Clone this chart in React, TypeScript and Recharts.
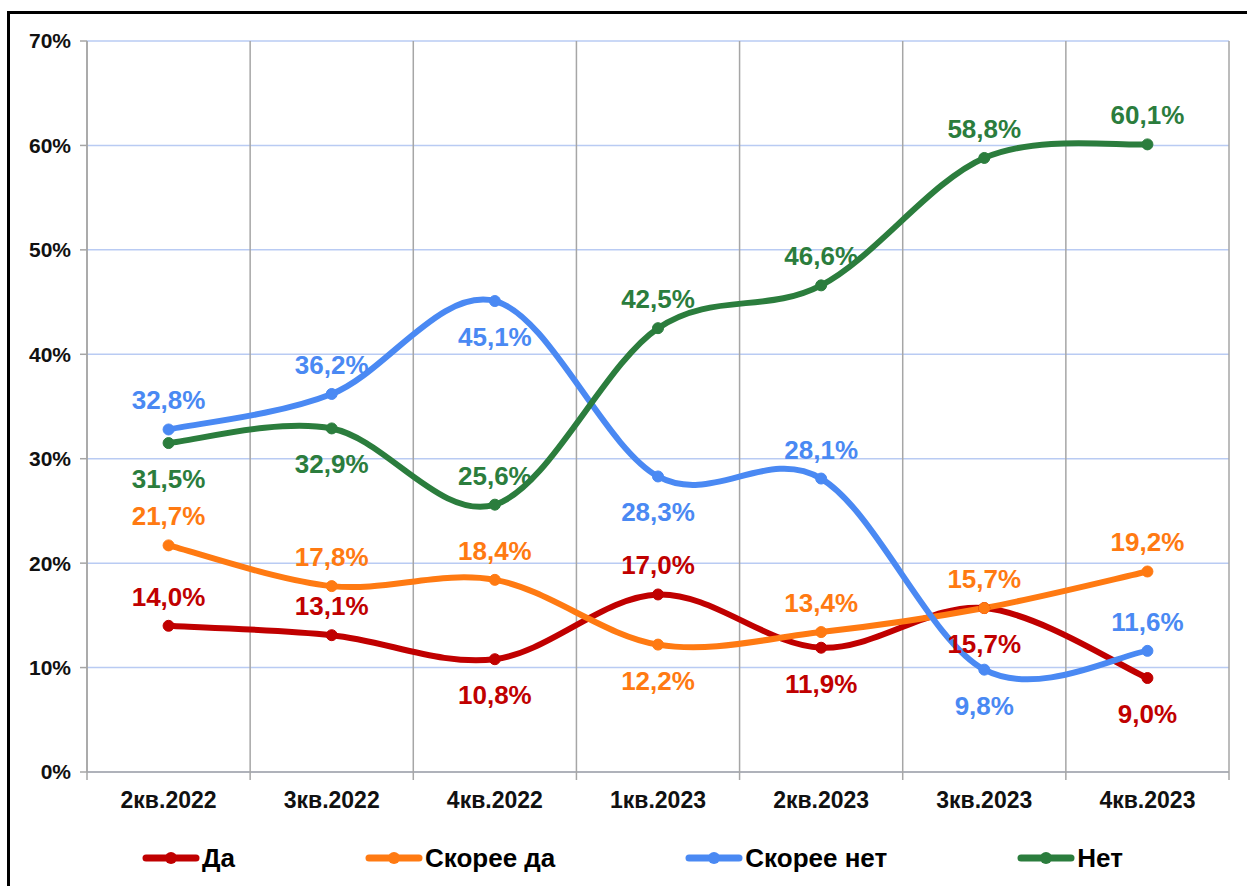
import { LineChart, Line, XAxis, YAxis, CartesianGrid, ReferenceLine, LabelList } from 'recharts';

const quarters = ['2кв.2022', '3кв.2022', '4кв.2022', '1кв.2023', '2кв.2023', '3кв.2023', '4кв.2023'];

const da = [14.0, 13.1, 10.8, 17.0, 11.9, 15.7, 9.0];
const skoreeDa = [21.7, 17.8, 18.4, 12.2, 13.4, 15.7, 19.2];
const skoreeNet = [32.8, 36.2, 45.1, 28.3, 28.1, 9.8, 11.6];
const net = [31.5, 32.9, 25.6, 42.5, 46.6, 58.8, 60.1];

// где стоит подпись: u — над точкой, d — под точкой
const daPos = ['u', 'u', 'd', 'u', 'd', 'd', 'd'];
const skoreeDaPos = ['u', 'u', 'u', 'd', 'u', 'u', 'u'];
const skoreeNetPos = ['u', 'u', 'd', 'd', 'u', 'd', 'u'];
const netPos = ['d', 'd', 'u', 'u', 'u', 'u', 'u'];

const yTicks = [0, 10, 20, 30, 40, 50, 60, 70];

const series = [
  { key: 'da', name: 'Да', values: da, pos: daPos, color: '#c00000' },
  { key: 'skoreeDa', name: 'Скорее да', values: skoreeDa, pos: skoreeDaPos, color: '#ff7a12' },
  { key: 'skoreeNet', name: 'Скорее нет', values: skoreeNet, pos: skoreeNetPos, color: '#4a89f3' },
  { key: 'net', name: 'Нет', values: net, pos: netPos, color: '#2b7d3d' },
];

const data = quarters.map((q, i) => {
  const row: Record<string, number | string> = { i, q };
  series.forEach((s) => (row[s.key] = s.values[i]));
  return row;
});

// границы между кварталами (вертикальные линии сетки)
const bounds = quarters.map((_, i) => i - 0.5).concat(quarters.length - 0.5);
const xTicks = [...bounds, ...quarters.map((_, i) => i)].sort((a, b) => a - b);

const FONT = '"Liberation Sans", Arial, sans-serif';
const GRAY = '#a6a6a6';

// Сглаживание как в Excel (Catmull-Rom)
const excelSmooth: any = (context: any) => {
  let pts: number[][] = [];
  return {
    areaStart() {},
    areaEnd() {},
    lineStart() {
      pts = [];
    },
    point(x: number, y: number) {
      pts.push([+x, +y]);
    },
    lineEnd() {
      if (!pts.length) return;
      context.moveTo(pts[0][0], pts[0][1]);
      for (let k = 0; k < pts.length - 1; k++) {
        const p0 = pts[k - 1] || pts[k];
        const p1 = pts[k];
        const p2 = pts[k + 1];
        const p3 = pts[k + 2] || p2;
        context.bezierCurveTo(
          p1[0] + (p2[0] - p0[0]) / 6,
          p1[1] + (p2[1] - p0[1]) / 6,
          p2[0] - (p3[0] - p1[0]) / 6,
          p2[1] - (p3[1] - p1[1]) / 6,
          p2[0],
          p2[1],
        );
      }
    },
  };
};

function QuarterTick({ x, y, payload }: any) {
  const v = payload.value;
  if (Number.isInteger(v)) {
    return (
      <text x={x} y={y + 36} textAnchor="middle" fontFamily={FONT} fontSize={23} fontWeight="bold" fill="#111">
        {quarters[v]}
      </text>
    );
  }
  return <line x1={x} x2={x} y1={y} y2={y + 8} stroke={GRAY} strokeWidth={1.5} />;
}

function makeLabel(color: string, pos: string[]) {
  return (props: any) => {
    const { x, y, value, index } = props;
    const below = pos[index] === 'd';
    return (
      <text
        x={x}
        y={below ? y + 45 : y - 20}
        textAnchor="middle"
        fontFamily={FONT}
        fontSize={26}
        fontWeight="bold"
        fill={color}
      >
        {value.toFixed(1).replace('.', ',')}%
      </text>
    );
  };
}

export default function App() {
  return (
    <div style={{ position: 'fixed', left: 0, top: 0, width: 1247, height: 886, overflow: 'hidden', background: '#fff' }}>
      <div
        style={{
          position: 'absolute',
          left: 7,
          top: 11,
          width: 1260,
          height: 900,
          border: '3px solid #000',
          boxSizing: 'border-box',
        }}
      />
      <div style={{ position: 'absolute', left: 0, top: 0 }}>
        <LineChart width={1247} height={886} data={data} margin={{ top: 41, right: 18, bottom: 69, left: 7 }}>
          <CartesianGrid vertical={false} stroke="#b9cbf3" strokeWidth={1.5} />
          {bounds.map((b) => (
            <ReferenceLine key={b} x={b} stroke={GRAY} strokeWidth={1.5} />
          ))}
          <XAxis
            dataKey="i"
            type="number"
            domain={[-0.5, quarters.length - 0.5]}
            ticks={xTicks}
            tick={<QuarterTick />}
            tickLine={false}
            tickSize={0}
            tickMargin={0}
            interval={0}
            height={45}
            axisLine={{ stroke: GRAY, strokeWidth: 1.5 }}
          />
          <YAxis
            domain={[0, 70]}
            ticks={yTicks}
            tickFormatter={(v) => `${v}%`}
            width={80}
            tickSize={7}
            tickMargin={9}
            tickLine={{ stroke: GRAY, strokeWidth: 1.5 }}
            axisLine={{ stroke: GRAY, strokeWidth: 1.5 }}
            tick={{ fontFamily: FONT, fontSize: 21, fontWeight: 'bold', fill: '#111' }}
          />
          {series.map((s) => (
            <Line
              key={s.key}
              dataKey={s.key}
              type={excelSmooth}
              stroke={s.color}
              strokeWidth={6}
              dot={{ r: 5.5, fill: s.color, stroke: s.color, strokeWidth: 1 }}
              activeDot={false}
              isAnimationActive={false}
            >
              <LabelList dataKey={s.key} content={makeLabel(s.color, s.pos)} />
            </Line>
          ))}
        </LineChart>
      </div>
      <div style={{ position: 'absolute', left: 142, top: 843, display: 'flex' }}>
        {series.map((s) => (
          <div key={s.key} style={{ display: 'flex', alignItems: 'center', height: 30, marginRight: 130 }}>
            <svg width={58} height={14} style={{ flex: 'none' }}>
              <line x1={4} x2={54} y1={7} y2={7} stroke={s.color} strokeWidth={7} strokeLinecap="round" />
              <circle cx={29} cy={7} r={6} fill={s.color} />
            </svg>
            <span
              style={{
                fontFamily: FONT,
                fontSize: 26,
                fontWeight: 'bold',
                color: '#000',
                whiteSpace: 'nowrap',
                marginLeft: 2,
              }}
            >
              {s.name}
            </span>
          </div>
        ))}
      </div>
    </div>
  );
}
